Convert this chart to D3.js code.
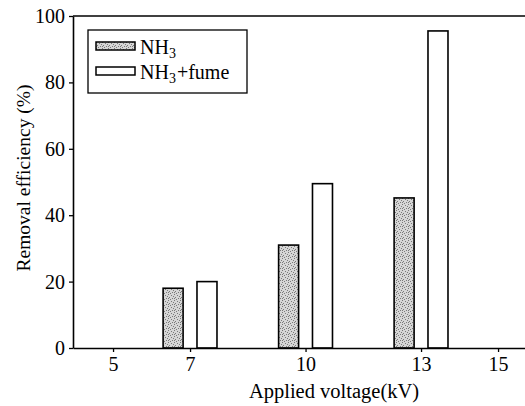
<!DOCTYPE html>
<html lang="en">
<head>
<meta charset="utf-8">
<title>Removal efficiency vs applied voltage</title>
<script src="https://d3js.org/d3.v7.min.js"></script>
<style type="text/css">
  body { margin: 0; background: #fff; }
</style>
</head>
<body>
<script type="text/javascript">

// data
const voltages = [7, 10, 13];
const nh3 = [18, 31, 45.2];
const nh3Fume = [20, 49.5, 95.5];
const xTicks = [5, 7, 10, 13, 15];
const yTicks = [0, 20, 40, 60, 80, 100];

const svgW = 525, svgH = 406;
const plotL = 73, plotR = 525, plotT = 16, plotB = 348;
const serif = "'Liberation Serif'";

const svg = d3.select("body").append("svg")
    .attr("width", svgW)
    .attr("height", svgH);

// speckled fill like the printed figure
const defs = svg.append("defs");
const pat = defs.append("pattern")
    .attr("id", "speckle")
    .attr("patternUnits", "userSpaceOnUse")
    .attr("width", 6).attr("height", 6);
pat.append("rect").attr("width", 6).attr("height", 6).attr("fill", "#d6d6d6");
[[0,0],[3,1],[1,3],[4,4],[5,2],[2,5],[0,4]].forEach(p => {
  pat.append("rect").attr("x", p[0]).attr("y", p[1])
     .attr("width", 1).attr("height", 1).attr("fill", "#7a7a7a");
});

const x = d3.scaleLinear().domain([3.96, 15.7]).range([plotL, plotR]);
const y = d3.scaleLinear().domain([0, 100]).range([plotB, plotT]);

const offset = 0.44; // bar centre offset in kV
const barW = 20;

// top frame line
svg.append("line")
    .attr("x1", plotL).attr("x2", plotR)
    .attr("y1", plotT).attr("y2", plotT)
    .attr("stroke", "#000").attr("stroke-width", 1.5);

// bars
const series = [
  {vals: nh3, dx: -offset, fill: "url(#speckle)"},
  {vals: nh3Fume, dx: offset, fill: "#fff"}
];
series.forEach(s => {
  svg.append("g").selectAll("rect")
    .data(voltages)
    .join("rect")
    .attr("x", (d) => x(d + s.dx) - barW / 2)
    .attr("y", (d, i) => y(s.vals[i]))
    .attr("width", barW)
    .attr("height", (d, i) => y(0) - y(s.vals[i]))
    .attr("fill", s.fill)
    .attr("stroke", "#000")
    .attr("stroke-width", 1.6);
});

// axes
const xAxis = svg.append("g")
    .attr("transform", "translate(0," + plotB + ")")
    .call(d3.axisBottom(x).tickValues(xTicks).tickSize(4).tickSizeOuter(0).tickPadding(5));
const yAxis = svg.append("g")
    .attr("transform", "translate(" + plotL + ",0)")
    .call(d3.axisLeft(y).tickValues(yTicks).tickSize(4).tickSizeOuter(0).tickPadding(4));

[xAxis, yAxis].forEach(a => {
  a.attr("font-family", null).attr("font-size", null);
  a.select(".domain").attr("stroke", "#000").attr("stroke-width", 1.6);
  a.selectAll(".tick line").attr("stroke", "#000").attr("stroke-width", 1.3);
  a.selectAll(".tick text")
    .style("font-family", serif)
    .style("font-size", "20px")
    .attr("fill", "#000");
});

// axis titles
svg.append("text")
    .attr("x", 334)
    .attr("y", 398)
    .attr("text-anchor", "middle")
    .style("font-family", serif)
    .style("font-size", "20.5px")
    .text("Applied voltage(kV)");

svg.append("text")
    .attr("transform", "translate(30,178) rotate(-90)")
    .attr("text-anchor", "middle")
    .style("font-family", serif)
    .style("font-size", "19.5px")
    .text("Removal efficiency (%)");

// legend
const lg = svg.append("g");
lg.append("rect")
    .attr("x", 88).attr("y", 30)
    .attr("width", 159).attr("height", 63)
    .attr("fill", "#fff").attr("stroke", "#000").attr("stroke-width", 1.3);

const legendItems = [
  {fill: "url(#speckle)", y: 42, label: "NH", extra: ""},
  {fill: "#fff", y: 67, label: "NH", extra: "+fume"}
];
legendItems.forEach(it => {
  lg.append("rect")
    .attr("x", 96).attr("y", it.y)
    .attr("width", 39).attr("height", 8)
    .attr("fill", it.fill)
    .attr("stroke", "#000").attr("stroke-width", 1.5);
  const t = lg.append("text")
    .attr("x", 140).attr("y", it.y + 12)
    .style("font-family", serif)
    .style("font-size", "20px");
  t.append("tspan").text(it.label);
  t.append("tspan").style("font-size", "14px").attr("dy", 4).text("3");
  if (it.extra) t.append("tspan").attr("dy", -4).attr("dx", 1).text(it.extra);
});

</script>
</body>
</html>
